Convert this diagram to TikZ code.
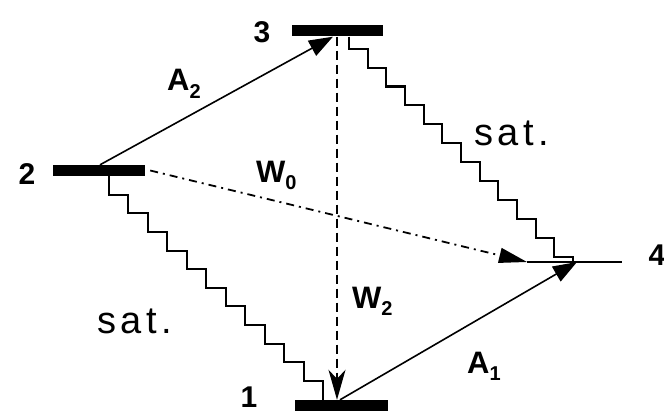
\documentclass[tikz,border=0pt]{standalone}
\usepackage{fontspec}
\setmainfont{Liberation Sans}
\usetikzlibrary{arrows.meta}
\newcommand\mysub[1]{\raisebox{-7pt}{\fontsize{20}{20}\selectfont #1}}
\begin{document}
\begin{tikzpicture}[x=1pt,y=-1pt,
  levelbar/.style={fill=black, draw=none, inner sep=0, minimum height=11pt},
  lbl/.style={anchor=base west, inner sep=0, font=\bfseries\fontsize{31}{36}\selectfont},
  num/.style={inner sep=0, font=\bfseries\fontsize{30}{34}\selectfont},
  satlbl/.style={anchor=base west, inner sep=0, font=\fontsize{38}{42}\selectfont\addfontfeature{LetterSpace=12}},
  arr/.style={line width=1.6pt, -{Triangle[length=24pt,width=17pt]}},
  wavy/.style={line width=2pt},
  dashv/.style={line width=2pt, dash pattern=on 9pt off 5pt, -{Stealth[length=30pt,width=17pt,inset=9pt]}},
  dashdot/.style={line width=1.8pt, dash pattern=on 8pt off 5pt on 2pt off 5pt, -{Triangle[length=28pt,width=15pt]}}
]
\useasboundingbox (0,0) rectangle (664,412);
\fill[white] (0,0) rectangle (664,412);

% levels
\node[levelbar, minimum width=91pt] (L3) at (337.5,31) {};
\node[levelbar, minimum width=92pt] (L2) at (99,170.5) {};
\node[levelbar, minimum width=93pt] (L1) at (341.5,405.5) {};
\coordinate (L4a) at (527,262);
\coordinate (L4m) at (577,262);
\coordinate (L4b) at (622,262);
\draw[line width=1.4pt] (L4a) -- (L4b);

% level numbers
\node[num] (n3) at (262,32) {3};
\node[num] (n2) at (27,174) {2};
\node[num, anchor=base] (n1) at (249,407) {1};
\node[num] (n4) at (657,255) {4};

% radiative arrows
\draw[arr] ([xshift=1pt]L2.north) -- ([xshift=-4.5pt]L3.south);
\draw[arr] ([xshift=-1.5pt]L1.north) -- (L4m);
\draw[dashv] ([xshift=-0.5pt]L3.south) -- ([xshift=-4.5pt]L1.north);
\draw[dashdot] ([xshift=5pt]L2.east) -- (L4a);

% saturable (staircase) relaxations
\draw[wavy] ([xshift=11.5pt]L3.south) -- ++(0,12)
  \foreach \i in {1,...,11}{ -- ++(18.67,0) -- ++(0,18.9)} -- ++(18.67,0) |- (L4m);
\draw[wavy] ([xshift=10pt]L2.south)
  \foreach \i in {1,...,11}{ -- ++(0,18.6) -- ++(19.45,0)} |- ([xshift=-18.5pt]L1.north);

% labels
\node[lbl] (a2) at (167,91) {A\mysub{2}};
\node[lbl] (w0) at (256,182) {W\mysub{0}};
\node[lbl] (w2) at (352,308) {W\mysub{2}};
\node[lbl] (a1) at (467,373) {A\mysub{1}};
\node[satlbl] (s1) at (474,145) {sat.};
\node[satlbl] (s2) at (97,333) {sat.};
\end{tikzpicture}
\end{document}
